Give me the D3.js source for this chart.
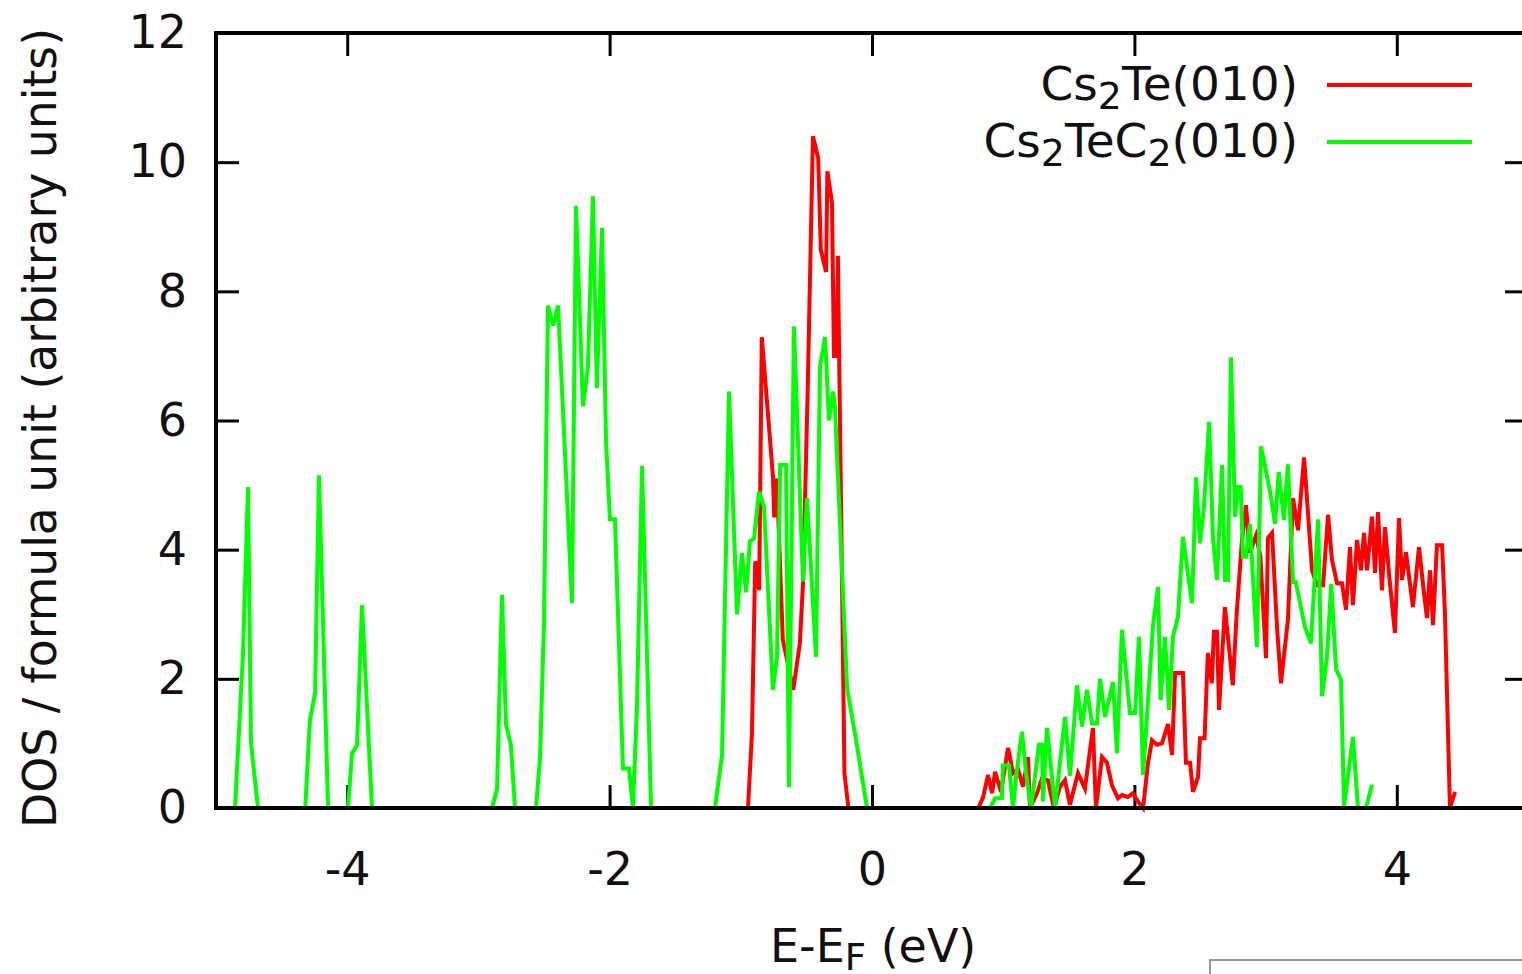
<!DOCTYPE html>
<html>
<head>
<meta charset="utf-8">
<script src="https://cdn.jsdelivr.net/npm/d3@7"></script>
<style>
  body { margin: 0; background: #fff; overflow: hidden; }
  svg { display: block; font-family: "DejaVu Sans", sans-serif; }
</style>
</head>
<body>
<div id="dosPlot"></div>
<script>
// energies (eV, relative to E_F) and DOS
var cs2te = [
  [-0.945,0],[-0.915,1.16],[-0.89,3.82],[-0.86,3.37],[-0.84,7.29],[-0.755,5.14],[-0.745,4.5],[-0.725,5.1],
  [-0.68,2.61],[-0.60,1.83],[-0.55,2.55],[-0.525,3.51],[-0.49,6.5],[-0.45,10.4],[-0.41,10.06],[-0.39,8.64],
  [-0.35,8.3],[-0.34,9.86],[-0.305,9.37],[-0.29,7.0],[-0.27,7.0],[-0.26,8.55],[-0.21,0.54],[-0.18,0],
  [0.81,0],[0.846,0.16],[0.884,0.51],[0.915,0.23],[0.938,0.56],[0.983,0.25],[1.037,0.93],[1.075,0.54],
  [1.113,0.6],[1.151,0.33],[1.189,0.79],[1.204,0],[1.258,0.23],[1.296,0.46],[1.341,0.43],[1.387,0],
  [1.433,0.33],[1.471,0.43],[1.509,0.05],[1.57,0.54],[1.623,0.3],[1.684,1.24],[1.707,0],[1.753,0.79],
  [1.791,0.7],[1.829,0.35],[1.875,0.15],[1.905,0.2],[1.951,0.17],[1.989,0.23],[2.027,0.1],[2.066,0],
  [2.104,0.7],[2.134,1.05],[2.172,0.98],[2.21,1.0],[2.256,1.3],[2.287,0.82],[2.31,2.09],[2.37,2.09],
  [2.393,0.7],[2.424,0.7],[2.447,0.25],[2.485,0.48],[2.50,1.08],[2.535,1.08],[2.56,2.40],[2.59,1.93],
  [2.606,2.73],[2.63,2.73],[2.645,1.52],[2.69,3.11],[2.75,1.9],[2.78,3.02],[2.82,4.15],[2.85,4.69],
  [2.88,3.95],[2.927,4.22],[2.96,3.9],[3.003,2.32],[3.018,4.18],[3.049,4.26],[3.087,2.80],[3.117,1.93],
  [3.17,2.91],[3.209,4.8],[3.247,4.3],[3.293,5.43],[3.354,3.68],[3.392,3.45],[3.438,3.45],[3.476,4.54],
  [3.506,3.84],[3.544,3.48],[3.582,3.48],[3.613,3.07],[3.643,4.04],[3.666,3.14],[3.697,4.15],[3.727,3.68],
  [3.75,4.26],[3.773,3.68],[3.811,4.51],[3.834,3.64],[3.857,4.58],[3.887,3.37],[3.91,4.35],[3.94,3.64],
  [3.986,2.71],[4.017,4.49],[4.04,3.53],[4.07,3.96],[4.123,3.11],[4.169,4.04],[4.207,3.33],[4.23,2.94],
  [4.253,3.68],[4.276,2.83],[4.306,4.07],[4.345,4.07],[4.367,3.02],[4.405,0],[4.444,0.25]
];

var cs2tec2 = [
  [-4.855,0],[-4.794,2.4],[-4.756,4.97],[-4.733,1.0],[-4.68,0],[-4.32,0],[-4.284,1.36],[-4.245,1.78],
  [-4.215,5.15],[-4.146,0],[-3.994,0],[-3.963,0.85],[-3.925,0.97],[-3.887,3.14],[-3.811,0],
  [-2.896,0],[-2.858,0.29],[-2.82,3.30],[-2.79,1.30],[-2.752,0.97],[-2.721,0],[-2.561,0],[-2.53,0.79],
  [-2.50,2.86],[-2.47,7.78],[-2.431,7.47],[-2.393,7.78],[-2.34,5.5],[-2.287,3.17],[-2.256,9.32],
  [-2.203,6.22],[-2.165,6.83],[-2.127,9.47],[-2.097,6.50],[-2.058,8.98],[-2.027,5.66],[-1.997,4.47],
  [-1.959,4.47],[-1.898,0.61],[-1.852,0.61],[-1.822,0],[-1.791,1.6],[-1.753,5.3],[-1.684,0],
  [-1.197,0],[-1.143,0.82],[-1.09,6.45],[-1.029,3.0],[-0.991,3.95],[-0.96,3.34],[-0.93,4.13],[-0.899,4.17],
  [-0.861,4.9],[-0.823,4.66],[-0.755,1.83],[-0.724,2.34],[-0.70,5.31],[-0.655,5.31],[-0.633,0.32],
  [-0.595,7.46],[-0.526,3.51],[-0.495,4.8],[-0.427,2.34],[-0.396,6.84],[-0.358,7.29],[-0.328,6.0],
  [-0.297,6.45],[-0.282,6.2],[-0.19,1.86],[-0.114,0.96],[-0.038,0],
  [0.90,0],[0.938,0.15],[0.99,0.15],[0.998,0.66],[1.044,0.66],[1.075,0],[1.098,0.48],[1.143,1.18],
  [1.174,0.54],[1.212,0],[1.273,0.98],[1.296,0.98],[1.303,0.1],[1.334,1.24],[1.395,0],[1.471,1.41],
  [1.509,0.5],[1.5625,1.90],[1.60,1.26],[1.639,1.83],[1.677,1.31],[1.715,1.31],[1.738,2.0],[1.776,1.41],
  [1.837,1.95],[1.867,0.85],[1.905,2.76],[1.966,1.47],[2.005,1.47],[2.035,2.65],[2.066,0.51],[2.142,2.83],
  [2.18,3.42],[2.20,1.67],[2.233,2.65],[2.264,1.52],[2.294,2.65],[2.332,2.96],[2.37,4.20],[2.439,3.17],
  [2.47,5.12],[2.50,4.10],[2.53,4.66],[2.569,5.98],[2.60,4.15],[2.63,3.53],[2.668,5.31],[2.69,3.53],
  [2.713,3.53],[2.736,6.98],[2.767,4.51],[2.79,4.97],[2.81,4.97],[2.828,3.89],[2.85,3.89],[2.88,4.4],
  [2.934,2.49],[2.965,5.6],[3.034,4.9],[3.072,4.4],[3.10,5.2],[3.14,4.46],[3.17,5.32],[3.209,3.5],
  [3.23,3.5],[3.30,2.8],[3.346,2.55],[3.40,4.47],[3.43,1.73],[3.468,2.35],[3.50,3.47],[3.537,2.15],
  [3.575,1.98],[3.598,0.03],[3.666,1.1],[3.704,0],[3.765,0],[3.811,0.36]
];

var xTicks = [-4, -2, 0, 2, 4];
var yTicks = [0, 2, 4, 6, 8, 10, 12];
var seriesColors = ["#ff0000", "#00ff00"];

var margin = {top: 33, left: 216},
    width = 1312,
    height = 775;

var svg = d3.select("#dosPlot")
  .append("svg")
    .attr("width", 1522)
    .attr("height", 974);

var g = svg.append("g")
    .attr("transform", "translate(" + margin.left + "," + margin.top + ")");

var x = d3.scaleLinear().domain([-5, 5]).range([0, width]);
var y = d3.scaleLinear().domain([0, 12]).range([height, 0]);

var tickLen = 23;

function styleAxis(sel) {
  sel.select(".domain").remove();
  sel.selectAll(".tick line").attr("stroke", "#000").attr("stroke-width", 3);
  sel.selectAll(".tick text").attr("fill", "#111")
    .style("font-family", "DejaVu Sans").style("font-size", "46px");
}

g.append("g")
  .attr("transform", "translate(0," + height + ")")
  .call(d3.axisBottom(x).tickValues(xTicks).tickSize(-tickLen).tickPadding(44)
        .tickFormat(function(d){ return String(d); }))
  .call(styleAxis);

g.append("g")
  .call(d3.axisTop(x).tickValues(xTicks).tickSize(-tickLen).tickFormat(""))
  .call(styleAxis);

g.append("g")
  .call(d3.axisLeft(y).tickValues(yTicks).tickSize(-tickLen).tickPadding(29))
  .call(styleAxis);

g.append("g")
  .attr("transform", "translate(" + width + ",0)")
  .call(d3.axisRight(y).tickValues(yTicks).tickSize(-tickLen).tickFormat(""))
  .call(styleAxis);

var line = d3.line()
  .x(function(d){ return x(d[0]); })
  .y(function(d){ return y(d[1]); });

[cs2te, cs2tec2].forEach(function(s, i) {
  g.append("path")
    .datum(s)
    .attr("fill", "none")
    .attr("stroke", seriesColors[i])
    .attr("stroke-width", 4)
    .attr("d", line);
});

// frame on top
g.append("rect")
  .attr("x", 0).attr("y", 0)
  .attr("width", width).attr("height", height)
  .attr("fill", "none")
  .attr("stroke", "#000")
  .attr("stroke-width", 4);

// legend
var legY = [52, 109];
var legText = [
  [["Cs", 0], ["2", 1], ["Te(010)", 0]],
  [["Cs", 0], ["2", 1], ["TeC", 0], ["2", 1], ["(010)", 0]]
];
legText.forEach(function(parts, i) {
  var t = g.append("text")
    .attr("x", 1082).attr("y", legY[i] + 15)
    .attr("text-anchor", "end")
    .attr("fill", "#111")
    .style("font-size", "47px");
  var shift = 0;
  parts.forEach(function(p) {
    var want = p[1] ? 9 : 0;
    t.append("tspan")
      .attr("dy", want - shift)
      .style("font-size", p[1] ? "38px" : "47px")
      .text(p[0]);
    shift = want;
  });
  g.append("line")
    .attr("x1", 1111).attr("x2", 1256)
    .attr("y1", legY[i]).attr("y2", legY[i])
    .attr("stroke", seriesColors[i])
    .attr("stroke-width", 4);
});

// axis titles
svg.append("text")
  .attr("transform", "translate(56,428) rotate(-90)")
  .attr("text-anchor", "middle")
  .attr("fill", "#111")
  .attr("textLength", 800)
  .attr("lengthAdjust", "spacingAndGlyphs")
  .style("font-size", "47px")
  .text("DOS / formula unit (arbitrary units)");

var xl = svg.append("text")
  .attr("x", 770).attr("y", 962)
  .attr("fill", "#111")
  .style("font-size", "46px");
xl.append("tspan").text("E-E");
xl.append("tspan").attr("dy", 8).style("font-size", "37px").text("F");
xl.append("tspan").attr("dy", -8).text(" (eV)");

// cropped box in the lower right corner
svg.append("rect")
  .attr("x", 1210).attr("y", 960)
  .attr("width", 340).attr("height", 40)
  .attr("fill", "#fff")
  .attr("stroke", "#999")
  .attr("stroke-width", 2);
</script>
</body>
</html>
